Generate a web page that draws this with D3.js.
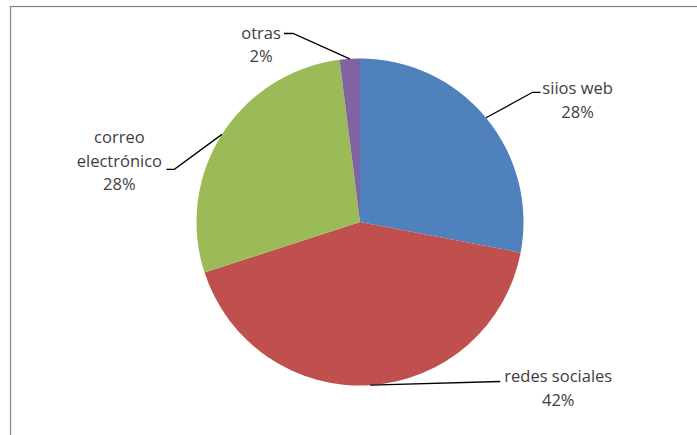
<!DOCTYPE html>
<html>
<head>
<meta charset="utf-8">
<script src="https://cdn.jsdelivr.net/npm/d3@7"></script>
<style>
  html, body { margin: 0; padding: 0; background: #fff; }
  svg { display: block; }
  .lbl { font-family: "Open Sans", "Liberation Sans", Arial, sans-serif; font-size: 16.5px; fill: #404040; }
</style>
</head>
<body>
<div id="chart"></div>
<script>
// data
var categories = ["siios web", "redes sociales", "correo electrónico", "otras"];
var values = [28, 42, 28, 2];
var labelLines = [["siios web"], ["redes sociales"], ["correo", "electrónico"], ["otras"]];
var colors = ["#4F81BD", "#C0504D", "#9BBB59", "#8064A2"];

var width = 697, height = 435;
var cx = 360, cy = 222, radius = 163.5;

// leader layout: elbow offset from arc point, horizontal tail, text centre offset, first baseline offset
var leaderLayout = [
  {dx: 46.6, dy: -25.5, tail: 8, tx: 37, ty: 2},
  {dx: 130, dy: -3.7, tail: 0, tx: 58, ty: 1},
  {dx: -47.6, dy: 35, tail: -8, tx: -47, ty: -26},
  {dx: -56.7, dy: -25.3, tail: -9, tx: -23, ty: 5}
];
var lineHeight = 23.5;

var svg = d3.select("#chart").append("svg")
    .attr("width", width)
    .attr("height", height);

// chart frame (runs off right and bottom)
svg.append("rect")
    .attr("x", 10.5)
    .attr("y", 6.5)
    .attr("width", width + 20)
    .attr("height", height + 20)
    .attr("fill", "none")
    .attr("stroke", "#868686")
    .attr("stroke-width", 1.2);

var pie = d3.pie().sort(null).value(function(d) { return d; });
var arcs = pie(values);

var arc = d3.arc().innerRadius(0).outerRadius(radius);

var g = svg.append("g").attr("transform", "translate(" + cx + "," + cy + ")");

g.selectAll(".slice")
  .data(arcs)
  .enter().append("path")
    .attr("class", "slice")
    .attr("d", arc)
    .attr("fill", function(d, i) { return colors[i]; });

// labels with leader lines
arcs.forEach(function(d, i) {
  var mid = (d.startAngle + d.endAngle) / 2;
  var px = Math.sin(mid) * radius, py = -Math.cos(mid) * radius;
  var L = leaderLayout[i];
  var ex = px + L.dx, ey = py + L.dy;
  var tx = ex + L.tail;

  g.append("polyline")
      .attr("points", [[px, py], [ex, ey], [tx, ey]].map(function(p) { return p.join(","); }).join(" "))
      .attr("fill", "none")
      .attr("stroke", "#000")
      .attr("stroke-width", 1.3);

  var lines = labelLines[i].concat([Math.round(values[i]) + "%"]);
  var text = g.append("text")
      .attr("class", "lbl")
      .attr("text-anchor", "middle");
  lines.forEach(function(s, k) {
    text.append("tspan")
        .attr("x", tx + L.tx)
        .attr("y", ey + L.ty + k * lineHeight)
        .text(s);
  });
});
</script>
</body>
</html>
